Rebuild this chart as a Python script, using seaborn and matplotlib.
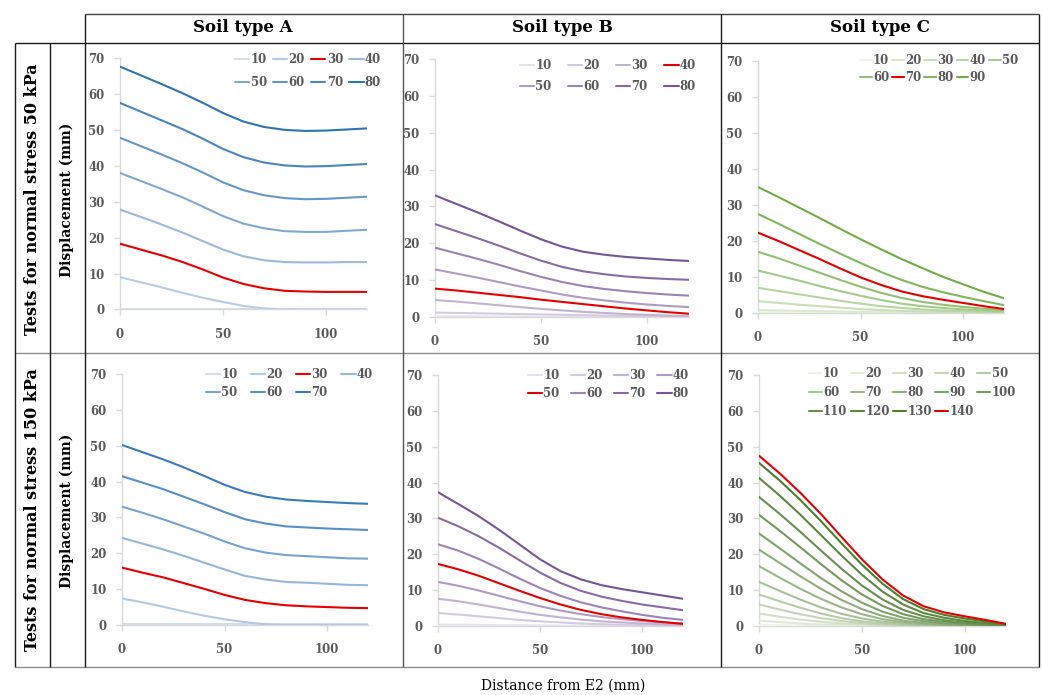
import numpy as np
import pandas as pd
import matplotlib
matplotlib.use("Agg")
import matplotlib.pyplot as plt
import seaborn as sns

# ---------------- data ----------------
X = [0, 10, 20, 30, 40, 50, 60, 70, 80, 90, 100, 110, 120]

A50_LABELS = ["10", "20", "30", "40", "50", "60", "70", "80"]
A50_VALUES = [
    [0.2, 0.2, 0.2, 0.2, 0.2, 0.2, 0.2, 0.2, 0.2, 0.2, 0.2, 0.2, 0.2],
    [9.0, 7.6, 6.2, 4.7, 3.3, 2.1, 1.0, 0.3, 0.0, 0.0, 0.0, 0.0, 0.0],
    [18.3, 16.7, 15.1, 13.3, 11.2, 8.9, 7.1, 5.9, 5.2, 5.0, 4.9, 4.9, 4.9],
    [27.8, 25.8, 23.7, 21.5, 19.1, 16.7, 14.8, 13.7, 13.2, 13.1, 13.1, 13.2, 13.2],
    [38.0, 35.8, 33.6, 31.3, 28.7, 26.0, 23.9, 22.6, 21.8, 21.6, 21.6, 21.9, 22.2],
    [47.8, 45.5, 43.2, 40.8, 38.2, 35.4, 33.2, 31.8, 31.0, 30.7, 30.8, 31.1, 31.4],
    [57.5, 55.1, 52.7, 50.3, 47.6, 44.7, 42.4, 40.9, 40.1, 39.8, 39.9, 40.2, 40.5],
    [67.6, 65.2, 62.8, 60.3, 57.6, 54.7, 52.3, 50.8, 50.0, 49.7, 49.8, 50.1, 50.4],
]

B50_LABELS = ["10", "20", "30", "40", "50", "60", "70", "80"]
B50_VALUES = [
    [0.2, 0.2, 0.15, 0.15, 0.1, 0.1, 0.1, 0.05, 0.05, 0.0, 0.0, 0.0, 0.0],
    [1.2, 1.1, 1.0, 0.9, 0.8, 0.7, 0.6, 0.5, 0.4, 0.3, 0.2, 0.15, 0.1],
    [4.6, 4.2, 3.7, 3.2, 2.7, 2.2, 1.8, 1.4, 1.1, 0.8, 0.6, 0.4, 0.3],
    [7.7, 7.2, 6.6, 6.0, 5.4, 4.7, 4.1, 3.5, 2.9, 2.3, 1.8, 1.3, 0.9],
    [12.9, 11.8, 10.7, 9.5, 8.3, 7.2, 6.1, 5.2, 4.5, 3.9, 3.4, 3.0, 2.7],
    [18.8, 17.3, 15.8, 14.2, 12.5, 10.9, 9.5, 8.4, 7.6, 7.0, 6.5, 6.1, 5.8],
    [25.2, 23.3, 21.4, 19.4, 17.3, 15.3, 13.6, 12.4, 11.6, 11.0, 10.6, 10.3, 10.1],
    [33.0, 30.7, 28.4, 26.0, 23.5, 21.1, 19.1, 17.7, 16.9, 16.3, 15.9, 15.5, 15.2],
]

C50_LABELS = ["10", "20", "30", "40", "50", "60", "70", "80", "90"]
C50_VALUES = [
    [0.1, 0.1, 0.1, 0.1, 0.05, 0.05, 0.0, 0.0, 0.0, 0.0, 0.0, 0.0, 0.0],
    [0.8, 0.7, 0.6, 0.5, 0.4, 0.3, 0.2, 0.15, 0.1, 0.05, 0.0, 0.0, 0.0],
    [3.3, 2.8, 2.3, 1.9, 1.5, 1.1, 0.8, 0.6, 0.4, 0.3, 0.2, 0.15, 0.1],
    [7.0, 6.1, 5.2, 4.3, 3.4, 2.6, 1.9, 1.4, 1.0, 0.7, 0.5, 0.35, 0.25],
    [11.8, 10.4, 9.0, 7.5, 6.1, 4.8, 3.6, 2.6, 1.9, 1.4, 1.0, 0.7, 0.5],
    [17.0, 15.2, 13.2, 11.2, 9.2, 7.3, 5.6, 4.2, 3.1, 2.3, 1.7, 1.2, 0.8],
    [22.3, 20.0, 17.5, 15.0, 12.4, 9.9, 7.8, 6.0, 4.7, 3.7, 2.8, 1.9, 1.1],
    [27.5, 24.8, 22.0, 19.2, 16.5, 13.9, 11.4, 9.2, 7.3, 5.8, 4.5, 3.3, 2.2],
    [35.0, 32.2, 29.3, 26.4, 23.4, 20.5, 17.7, 15.0, 12.5, 10.1, 8.0, 5.9, 4.1],
]

A150_LABELS = ["10", "20", "30", "40", "50", "60", "70"]
A150_VALUES = [
    [0.2, 0.2, 0.2, 0.2, 0.2, 0.2, 0.2, 0.2, 0.2, 0.2, 0.2, 0.2, 0.2],
    [7.4, 6.3, 5.1, 3.8, 2.6, 1.6, 0.8, 0.2, 0.0, 0.0, 0.0, 0.0, 0.0],
    [16.0, 14.6, 13.3, 11.7, 10.1, 8.4, 7.0, 6.1, 5.5, 5.2, 5.0, 4.8, 4.7],
    [24.3, 22.7, 21.1, 19.3, 17.4, 15.5, 13.7, 12.7, 12.0, 11.8, 11.5, 11.2, 11.1],
    [33.0, 31.3, 29.5, 27.5, 25.5, 23.3, 21.4, 20.2, 19.5, 19.2, 18.9, 18.6, 18.5],
    [41.5, 39.7, 37.9, 35.8, 33.7, 31.5, 29.5, 28.3, 27.5, 27.2, 26.9, 26.7, 26.5],
    [50.2, 48.2, 46.2, 44.0, 41.6, 39.1, 37.1, 35.8, 35.0, 34.6, 34.3, 34.0, 33.8],
]

B150_LABELS = ["10", "20", "30", "40", "50", "60", "70", "80"]
B150_VALUES = [
    [0.4, 0.35, 0.3, 0.25, 0.2, 0.15, 0.1, 0.1, 0.05, 0.0, 0.0, 0.0, 0.0],
    [3.6, 3.2, 2.7, 2.2, 1.7, 1.3, 1.0, 0.7, 0.5, 0.35, 0.25, 0.15, 0.1],
    [7.6, 6.9, 6.0, 5.0, 4.0, 3.1, 2.4, 1.8, 1.3, 1.0, 0.7, 0.5, 0.3],
    [12.3, 11.2, 9.9, 8.4, 6.9, 5.5, 4.3, 3.3, 2.5, 1.9, 1.4, 1.0, 0.7],
    [17.3, 15.8, 14.0, 11.9, 9.8, 7.8, 6.0, 4.5, 3.3, 2.4, 1.7, 1.1, 0.6],
    [22.8, 21.0, 18.7, 16.0, 13.2, 10.6, 8.4, 6.6, 5.2, 4.1, 3.1, 2.3, 1.7],
    [30.2, 27.8, 25.0, 21.8, 18.3, 14.9, 12.0, 9.8, 8.2, 7.0, 6.0, 5.2, 4.4],
    [37.3, 34.0, 30.6, 26.8, 22.7, 18.6, 15.3, 13.0, 11.4, 10.3, 9.4, 8.5, 7.6],
]

C150_LABELS = ["10", "20", "30", "40", "50", "60", "70", "80", "90", "100",
               "110", "120", "130", "140"]
C150_VALUES = [
    [0.3, 0.2, 0.15, 0.1, 0.05, 0.0, 0.0, 0.0, 0.0, 0.0, 0.0, 0.0, 0.0],
    [1.5, 1.1, 0.7, 0.4, 0.2, 0.1, 0.0, 0.0, 0.0, 0.0, 0.0, 0.0, 0.0],
    [3.5, 2.6, 1.8, 1.2, 0.7, 0.4, 0.2, 0.1, 0.0, 0.0, 0.0, 0.0, 0.0],
    [6.0, 4.6, 3.3, 2.2, 1.4, 0.8, 0.4, 0.2, 0.1, 0.0, 0.0, 0.0, 0.0],
    [8.8, 6.9, 5.1, 3.5, 2.2, 1.3, 0.7, 0.3, 0.1, 0.0, 0.0, 0.0, 0.0],
    [12.3, 9.8, 7.4, 5.2, 3.4, 2.1, 1.2, 0.6, 0.3, 0.1, 0.0, 0.0, 0.0],
    [16.7, 13.5, 10.4, 7.6, 5.2, 3.3, 1.9, 1.0, 0.5, 0.3, 0.1, 0.1, 0.0],
    [21.3, 17.6, 13.9, 10.4, 7.3, 4.7, 2.8, 1.5, 0.8, 0.4, 0.2, 0.1, 0.1],
    [25.8, 21.7, 17.5, 13.4, 9.7, 6.5, 4.0, 2.3, 1.3, 0.7, 0.4, 0.2, 0.1],
    [31.0, 26.6, 22.0, 17.3, 12.8, 8.8, 5.6, 3.3, 1.9, 1.1, 0.6, 0.3, 0.2],
    [36.0, 31.3, 26.3, 21.1, 16.0, 11.3, 7.4, 4.5, 2.7, 1.6, 0.9, 0.5, 0.3],
    [41.3, 36.4, 31.1, 25.4, 19.7, 14.3, 9.6, 6.0, 3.6, 2.3, 1.4, 0.8, 0.4],
    [45.5, 40.6, 35.2, 29.3, 23.1, 17.1, 11.8, 7.5, 4.7, 3.1, 2.1, 1.3, 0.5],
    [47.5, 42.6, 37.2, 31.3, 24.9, 18.6, 13.0, 8.5, 5.5, 3.8, 2.7, 1.7, 0.6],
]

COL_TITLES = ["Soil type A", "Soil type B", "Soil type C"]
ROW_TITLES = ["Tests for normal stress 50 kPa", "Tests for normal stress 150 kPa"]
Y_LABEL = "Displacement (mm)"
X_LABEL = "Distance from E2 (mm)"
Y_TICKS = [0, 10, 20, 30, 40, 50, 60, 70]
X_TICKS = [0, 50, 100]

# ---------------- style ----------------
sns.set_style("white")
plt.rcParams["font.family"] = ["DejaVu Serif"]
plt.rcParams["font.weight"] = "bold"

RED = "#e60000"
W, H = 1043, 695
fig = plt.figure(figsize=(W / 100, H / 100), dpi=100)

# table grid drawn on a full-figure background axes (pixel coordinates)
bg = fig.add_axes([0, 0, 1, 1], zorder=-5)
bg.set_xlim(0, W)
bg.set_ylim(H, 0)
bg.axis("off")
DARK = "#1a1a1a"
GREY = "#8c8c8c"
seg = [
    ((85, 1039), (14, 14), "#444444"),
    ((15, 1039), (42.5, 42.5), DARK),
    ((15, 1039), (353, 353), GREY),
    ((15, 1039), (667, 667), GREY),
    ((15, 15), (42.5, 667), DARK),
    ((49.5, 49.5), (42.5, 667), DARK),
    ((85, 85), (14, 667), DARK),
    ((403, 403), (14, 667), "#555555"),
    ((721, 721), (14, 667), DARK),
    ((1039, 1039), (14, 667), DARK),
]
for xs, ys, c in seg:
    bg.plot(xs, ys, color=c, lw=1.0, solid_capstyle="butt")

for i, t in enumerate(COL_TITLES):
    cx = [243, 562, 880][i]
    bg.text(cx, 28, t, ha="center", va="center", fontsize=12,
            fontweight="bold", color="black", family="DejaVu Serif")
for j, t in enumerate(ROW_TITLES):
    cy = [199, 510][j]
    bg.text(33, cy, t, ha="center", va="center", rotation=90, fontsize=11.5,
            fontweight="bold", color="black", family="DejaVu Serif")
    bg.text(67, cy + 1, Y_LABEL, ha="center", va="center", rotation=90,
            fontsize=10, fontweight="bold", color="black", family="DejaVu Serif")
bg.text(563, 686, X_LABEL, ha="center", va="center", fontsize=10,
        fontweight="normal", color="black", family="DejaVu Serif")


def palette(labels, light, dark, red_label):
    others = [l for l in labels if l != red_label]
    cols = sns.blend_palette([light, dark], len(others))
    pal = {}
    k = 0
    for l in labels:
        if l == red_label:
            pal[l] = RED
        else:
            pal[l] = cols[k]
            k += 1
    return pal


panels = [
    # labels, values, (x0px, x120px, y0px, y70px), light, dark, red,
    # legend (right, top, ncol, labelspacing, columnspacing, handlelength, size)
    (A50_LABELS, A50_VALUES, (120, 367, 309.5, 58), "#d3ddee", "#2e75b6", "30",
     (381, 53, 4, 0.86, 0.54, 1.2, 8.5)),
    (B50_LABELS, B50_VALUES, (435, 689, 317, 59), "#e8e2ee", "#765598", "40",
     (696, 59, 4, 0.69, 1.39, 1.2, 8.5)),
    (C50_LABELS, C50_VALUES, (758, 1004, 313, 61), "#ebf3e5", "#70ad47", "70",
     (1018, 54, 5, 0.35, 0.25, 1.0, 8.5)),
    (A150_LABELS, A150_VALUES, (122, 368, 625, 374), "#d3ddee", "#3a7bbd", "30",
     (373, 368, 4, 0.43, 1.14, 1.2, 8.5)),
    (B150_LABELS, B150_VALUES, (438, 683, 626, 375), "#e8e2ee", "#765598", "50",
     (689, 369, 4, 0.43, 0.97, 1.2, 8.5)),
    (C150_LABELS, C150_VALUES, (759, 1006, 626, 375), "#ebf3e5", "#4e7d2f", "140",
     (1016, 367, 5, 0.5, 0.3, 1.1, 8.5)),
]

for labels, values, (x0, x1, y0, y1), light, dark, red, (lr, lt, ncol, lsp, csp, hl, fs) in panels:
    ax = fig.add_axes([x0 / W, 1 - y0 / H, (x1 - x0) / W, (y0 - y1) / H])
    rows = []
    for lab, vals in zip(labels, values):
        for xv, yv in zip(X, vals):
            rows.append({"x": xv, "y": yv, "series": lab})
    df = pd.DataFrame(rows)
    pal = palette(labels, light, dark, red)
    sns.lineplot(data=df, x="x", y="y", hue="series", hue_order=labels,
                 palette=pal, ax=ax, legend=False, linewidth=1.5,
                 estimator=None, sort=False)
    ax.set_xlim(0, 120)
    ax.set_ylim(0, 70)
    ax.set_xticks(X_TICKS)
    ax.set_yticks(Y_TICKS)
    ax.set_xlabel("")
    ax.set_ylabel("")
    for s in ["top", "right"]:
        ax.spines[s].set_visible(False)
    for s in ["left", "bottom"]:
        ax.spines[s].set_color("#d9d9d9")
        ax.spines[s].set_linewidth(1.0)
    ax.tick_params(axis="both", which="major", length=4, width=1.0,
                   color="#d9d9d9", labelcolor="#595959", labelsize=8.5,
                   left=True, bottom=True, direction="out")
    ax.tick_params(axis="y", pad=7)
    ax.tick_params(axis="x", pad=9)
    ax.patch.set_alpha(0)
    for sp in ax.spines.values():
        sp.set_zorder(0)
    # legend, row-major order
    lines = ax.get_lines()
    idx = sorted(range(len(labels)), key=lambda i: (i % ncol, i // ncol))
    handles = [lines[i] for i in idx]
    labs = [labels[i] for i in idx]
    leg = ax.legend(handles, labs, ncol=ncol, loc="upper right",
                    bbox_to_anchor=(lr / W, 1 - lt / H),
                    bbox_transform=fig.transFigure, frameon=False,
                    handlelength=hl, handletextpad=0.1, columnspacing=csp,
                    labelspacing=lsp, borderpad=0, borderaxespad=0,
                    prop={"size": fs, "weight": "bold", "family": "DejaVu Serif"})
    for t in leg.get_texts():
        t.set_color("#595959")

fig.savefig("out.png", dpi=100)
